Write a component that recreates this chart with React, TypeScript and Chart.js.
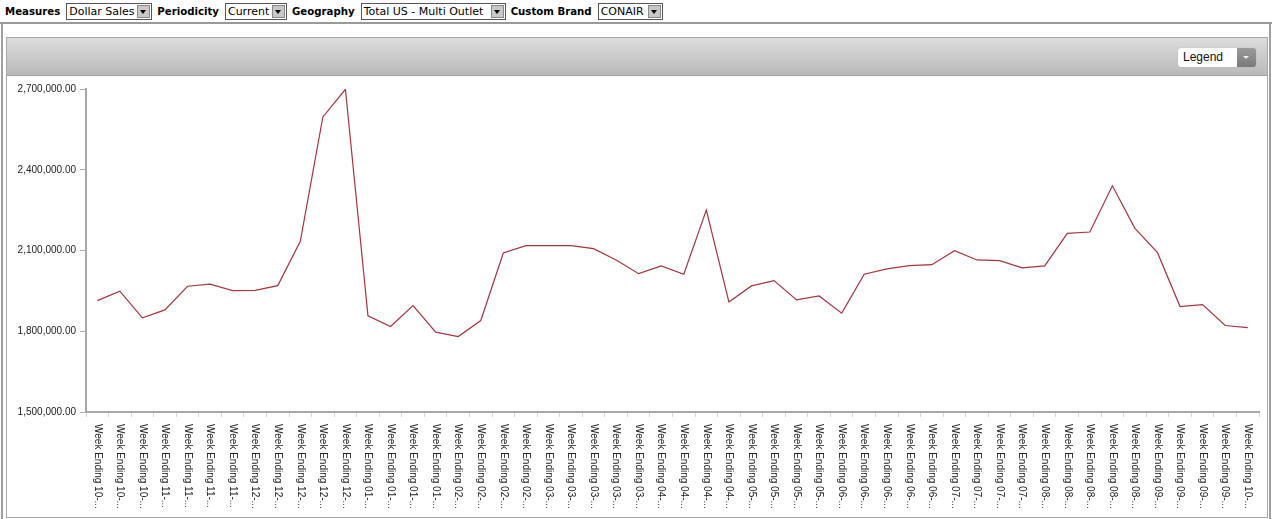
import React, { useEffect, useRef } from "react";
import { Chart, registerables } from "chart.js";

Chart.register(...registerables);

const weekDates: string[] = [
  "10-13-2012", "10-20-2012", "10-27-2012",
  "11-03-2012", "11-10-2012", "11-17-2012", "11-24-2012",
  "12-01-2012", "12-08-2012", "12-15-2012", "12-22-2012", "12-29-2012",
  "01-05-2013", "01-12-2013", "01-19-2013", "01-26-2013",
  "02-02-2013", "02-09-2013", "02-16-2013", "02-23-2013",
  "03-02-2013", "03-09-2013", "03-16-2013", "03-23-2013", "03-30-2013",
  "04-06-2013", "04-13-2013", "04-20-2013", "04-27-2013",
  "05-04-2013", "05-11-2013", "05-18-2013", "05-25-2013",
  "06-01-2013", "06-08-2013", "06-15-2013", "06-22-2013", "06-29-2013",
  "07-06-2013", "07-13-2013", "07-20-2013", "07-27-2013",
  "08-03-2013", "08-10-2013", "08-17-2013", "08-24-2013", "08-31-2013",
  "09-07-2013", "09-14-2013", "09-21-2013", "09-28-2013",
  "10-05-2013",
];

const categories: string[] = weekDates.map((d) => "Week Ending " + d);

const dollarSales: number[] = [
  1913900, 1948700, 1849700, 1879400, 1967300, 1974700, 1951000, 1952000, 1969500, 2134200,
  2596200, 2699000, 1857200, 1817500, 1895400, 1796700, 1780400, 1839700, 2090800, 2117800,
  2117800, 2117800, 2106700, 2064800, 2014000, 2042600, 2011800, 2250200, 1909100, 1968400,
  1988100, 1916500, 1931300, 1867200, 2011800, 2031400, 2043700, 2047400, 2099300, 2064800,
  2062300, 2035200, 2042600, 2163800, 2168600, 2340300, 2182400, 2091900, 1891700, 1899100,
  1821200, 1813800,
];

const yMin = 1500000;
const yMax = 2700000;
const yStep = 300000;

const toolbarItems: { label: string; value: string; width: number }[] = [
  { label: "Measures", value: "Dollar Sales", width: 86 },
  { label: "Periodicity", value: "Current", width: 62 },
  { label: "Geography", value: "Total US - Multi Outlet", width: 145 },
  { label: "Custom Brand", value: "CONAIR", width: 65 },
];

const axisFont = '"Liberation Sans", Arial, sans-serif';

const shortLabel = (s: string) => s.slice(0, 15) + "...";

const xLabelPlugin = {
  id: "rotatedXLabels",
  afterDraw(chart: any) {
    const s = chart.scales.x;
    const ctx = chart.ctx;
    ctx.save();
    ctx.font = "10px " + axisFont;
    ctx.fillStyle = "#222";
    ctx.textAlign = "left";
    ctx.textBaseline = "middle";
    s.ticks.forEach((t: any, i: number) => {
      const x = s.getPixelForTick(i);
      ctx.save();
      ctx.translate(x, s.top + 12);
      ctx.rotate(Math.PI / 2);
      ctx.fillText(shortLabel(s.getLabelForValue(t.value)), 0, 0);
      ctx.restore();
    });
    ctx.restore();
  },
};

function Select({ value, width }: { value: string; width: number }) {
  return (
    <div
      style={{
        display: "inline-block",
        position: "relative",
        width,
        height: 17,
        border: "1px solid #555",
        background: "#fff",
        boxSizing: "border-box",
        verticalAlign: "middle",
        fontSize: 11,
        lineHeight: "15px",
        paddingLeft: 2,
        fontFamily: '"DejaVu Sans", Verdana, sans-serif',
        color: "#000",
        whiteSpace: "nowrap",
        overflow: "hidden",
      }}
    >
      {value}
      <div
        style={{
          position: "absolute",
          right: 1,
          top: 1,
          width: 13,
          height: 13,
          background: "#c8c8c8",
          border: "1px solid #888",
          boxSizing: "border-box",
        }}
      >
        <div
          style={{
            position: "absolute",
            left: 2,
            top: 4,
            width: 0,
            height: 0,
            borderLeft: "3.5px solid transparent",
            borderRight: "3.5px solid transparent",
            borderTop: "4px solid #000",
          }}
        />
      </div>
    </div>
  );
}

export default function App() {
  const canvasRef = useRef<HTMLCanvasElement | null>(null);

  useEffect(() => {
    document.body.style.margin = "0";
    const canvas = canvasRef.current;
    if (!canvas) return;
    const chart = new Chart(canvas, {
      type: "line",
      data: {
        labels: categories,
        datasets: [
          {
            label: "Dollar Sales",
            data: dollarSales,
            borderColor: "#a8343e",
            borderWidth: 1.2,
            pointRadius: 0,
            pointHoverRadius: 0,
            tension: 0,
            fill: false,
          },
        ],
      },
      options: {
        animation: false,
        responsive: false,
        maintainAspectRatio: false,
        events: [],
        layout: { padding: { top: 13, right: 6, bottom: 0, left: 0 } },
        plugins: {
          legend: { display: false },
          tooltip: { enabled: false },
          title: { display: false },
        },
        scales: {
          x: {
            type: "category",
            offset: true,
            grid: {
              display: true,
              offset: true,
              drawOnChartArea: false,
              drawTicks: true,
              tickLength: 5,
              color: "#d4d4d4",
              lineWidth: 1,
            },
            border: { display: true, color: "#a8a8a8", width: 2 },
            ticks: { display: false, autoSkip: false },
            afterFit: (s: any) => {
              s.height = 104;
            },
          },
          y: {
            min: yMin,
            max: yMax,
            grid: {
              display: true,
              drawOnChartArea: false,
              drawTicks: true,
              tickLength: 6,
              color: "#b0b0b0",
            },
            border: { display: true, color: "#a8a8a8", width: 2 },
            ticks: {
              stepSize: yStep,
              padding: 4,
              color: "#222",
              font: { family: axisFont, size: 10 },
              callback: (v: any) =>
                Number(v).toLocaleString("en-US", {
                  minimumFractionDigits: 2,
                  maximumFractionDigits: 2,
                }),
            },
            afterFit: (s: any) => {
              s.width = 79;
            },
          },
        },
      },
      plugins: [xLabelPlugin],
    });
    return () => chart.destroy();
  }, []);

  return (
    <div
      style={{
        position: "relative",
        width: 1272,
        height: 519,
        background: "#fff",
        overflow: "hidden",
        fontFamily: '"DejaVu Sans", Verdana, sans-serif',
      }}
    >
      {/* toolbar */}
      <div
        style={{
          position: "absolute",
          left: 0,
          top: 0,
          width: 1272,
          height: 22,
          borderBottom: "2px solid #9a9a9a",
          display: "flex",
          alignItems: "center",
          paddingLeft: 5,
          boxSizing: "content-box",
        }}
      >
        {toolbarItems.map((it) => (
          <React.Fragment key={it.label}>
            <span
              style={{
                fontWeight: "bold",
                fontSize: 10.2,
                color: "#000",
                marginRight: 6,
                whiteSpace: "nowrap",
              }}
            >
              {it.label}
            </span>
            <span style={{ marginRight: 5, display: "inline-flex" }}>
              <Select value={it.value} width={it.width} />
            </span>
          </React.Fragment>
        ))}
      </div>
      {/* outer frame sides */}
      <div style={{ position: "absolute", left: 1, top: 24, width: 2, height: 495, background: "#a0a0a0" }} />
      <div style={{ position: "absolute", left: 1269, top: 24, width: 2, height: 495, background: "#a0a0a0" }} />
      {/* panel */}
      <div
        style={{
          position: "absolute",
          left: 6,
          top: 37,
          width: 1262,
          height: 481,
          border: "1px solid #a8a8a8",
          boxSizing: "border-box",
          background: "#fff",
        }}
      />
      <div
        style={{
          position: "absolute",
          left: 7,
          top: 38,
          width: 1260,
          height: 37,
          background: "linear-gradient(#dddddd, #b9b9b9)",
          borderBottom: "1px solid #a0a0a0",
        }}
      />
      {/* legend dropdown */}
      <div
        style={{
          position: "absolute",
          left: 1178,
          top: 48,
          width: 78,
          height: 19,
          borderRadius: 3,
          overflow: "hidden",
          display: "flex",
          boxShadow: "0 0 1px #999",
        }}
      >
        <div
          style={{
            flex: 1,
            background: "#fff",
            fontFamily: axisFont,
            fontSize: 12,
            lineHeight: "19px",
            paddingLeft: 5,
            color: "#111",
          }}
        >
          Legend
        </div>
        <div
          style={{
            width: 19,
            background: "linear-gradient(#9a9a9a, #7a7a7a)",
            position: "relative",
          }}
        >
          <div
            style={{
              position: "absolute",
              left: 6,
              top: 8,
              width: 0,
              height: 0,
              borderLeft: "3px solid transparent",
              borderRight: "3px solid transparent",
              borderTop: "3px solid #eee",
            }}
          />
        </div>
      </div>
      <canvas
        ref={canvasRef}
        width={1258}
        height={440}
        style={{ position: "absolute", left: 7, top: 76, width: 1258, height: 440 }}
      />
    </div>
  );
}
